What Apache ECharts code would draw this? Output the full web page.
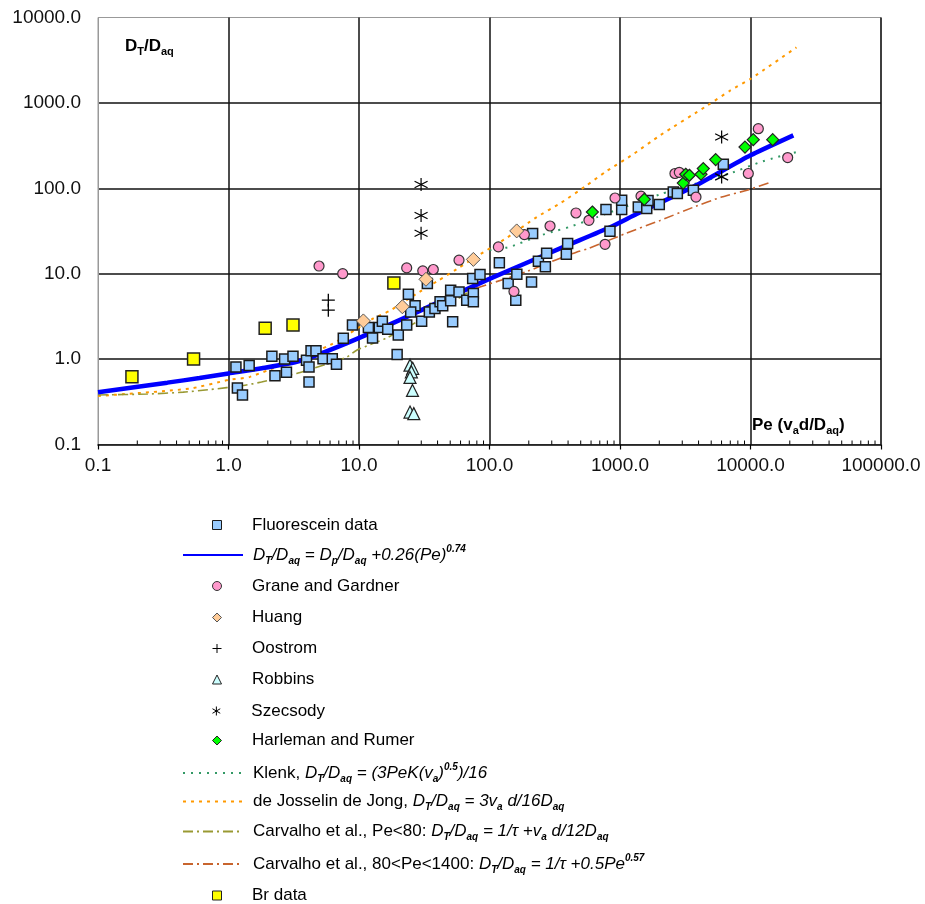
<!DOCTYPE html>
<html>
<head>
<meta charset="utf-8">
<script src="https://cdn.jsdelivr.net/npm/echarts@6/dist/echarts.min.js"></script>
<style>
html,body{margin:0;padding:0;background:#fff;}
#c{width:925px;height:904px;}
</style>
</head>
<body>
<div id="c"></div>
<script>
// ---------------- DATA ----------------
const xTickLabels = ['0.1','1.0','10.0','100.0','1000.0','10000.0','100000.0'];
const yTickLabels = ['0.1','1.0','10.0','100.0','1000.0','10000.0'];

const fluorPe = [1.14,1.44,1.17,1.28,2.15,2.69,3.12,2.27,2.78,3.96,4.29,4.68,4.14,4.14,5.30,6.24,6.72,7.58,8.91,11.8,12.7,14.3,15.1,16.6,20.0,19.6,23.2,23.9,26.9,24.9,30.2,34.6,33.4,38.2,41.8,43.8,50.4,50.4,52.2,58.4,66.9,75.2,75.2,74.3,84.6,119,139,159,162,210,214,237,274,268,397,388,781,838,1030,1030,1381,1603,1640,2000,2560,2750,3650,6190];
const fluorDT = [0.81,0.84,0.46,0.38,1.08,1.0,1.08,0.64,0.70,0.97,1.25,1.25,0.81,0.54,1.01,1.01,0.87,1.76,2.50,2.35,1.77,2.35,2.78,2.23,1.91,1.13,2.50,5.75,4.2,3.57,2.78,3.57,7.68,3.92,4.68,4.2,6.41,4.81,2.73,6.12,4.9,5.87,4.68,8.79,9.79,13.4,7.68,4.9,9.87,8.02,29.5,14.0,17.4,12.1,22.5,16.9,56.3,31.4,56.3,72.4,60.4,57.9,72,64.5,90.5,86.7,94.8,191];

const fitPe = [0.1,0.34,0.6,1.0,1.8,3.5,8,23,95,370,840,1340,3650,10000,21300];
const fitDT = [0.41,0.53,0.60,0.68,0.78,0.95,1.53,3.1,8.4,20.6,35,50,104,243,417];

const granePe = [4.94,7.5,23.2,30.8,37.1,58.4,117,154,185,291,460,578,768,916,1449,2637,2846,3822,9620,11480,19270];
const graneDT = [12.3,10.0,11.7,10.8,11.2,14.4,20.6,6.2,28.7,36.2,51.4,42.2,22.1,77,81,149,154,79,149,499,229];

const huangPe = [10.8,21.5,32.6,75.2,161.6];
const huangDT = [2.8,4.1,8.6,14.7,31.7];

const oostromPe = [5.82,5.82];
const oostromDT = [4.9,3.74];

const robbinsPe = [24.6,25.8,25.2,24.6,25.7,24.6,26.3];
const robbinsDT = [0.85,0.78,0.71,0.61,0.43,0.24,0.23];

const szecsodyPe = [29.9,29.9,29.9,6010,6010];
const szecsodyDT = [111,48,29.8,398,136];

const harlemanPe = [614,1535,3055,3187,3400,4177,4348,5410,9075,10500,14800];
const harlemanDT = [52.8,74.3,115,146,142,146,170,217,304,371,371];

const klenkPe = [100,143,236,328,404,667,2030,7000,11600,16000,22500];
const klenkDT = [18.8,20.6,27.5,32,35,46,85,150,200,232,265];

const josPe = [0.1,0.5,1,1.46,6,12.9,17,29,41,56,85,135,230,350,540,790,1260,2030,4680,7020,10000,22500];
const josDT = [0.37,0.45,0.57,0.62,1.46,3.0,3.64,6.1,8.4,11.3,16.9,26.2,46,67,105,159,250,417,935,1400,1910,4470];

const carv1Pe = [0.1,0.24,0.45,0.72,1.3,1.79,3.33,4.47,8.0,9.6,12.9,16.3,30,50,80];
const carv1DT = [0.38,0.39,0.41,0.44,0.49,0.54,0.68,0.78,1.05,1.27,1.53,1.77,2.9,4.5,7.0];

const carv2Pe = [80,190,318,468,560,1100,2030,3650,6000,9400,13800];
const carv2DT = [6.8,10.5,14.4,18,19.5,29.5,42,60,79,95,116];

const brPe = [0.182,0.54,1.91,3.12,18.5];
const brDT = [0.62,1.0,2.29,2.5,7.8];

// minor tick values on the Pe axis (2..9 within each decade)
const decades = [0.1,1,10,100,1000,10000];
const minorTicks = [];
decades.forEach(d => { for (let m = 2; m <= 9; m++) minorTicks.push(+(d*m).toPrecision(3)); });

// ---------------- helpers ----------------
const zip = (xs, ys) => xs.map((x, i) => [x, ys[i]]);
const FONT = '"Liberation Sans", Arial, sans-serif';

const ICON = {
  square: 'path://M0,0L10,0L10,10L0,10Z',
  diamond: 'path://M5,0L10,5L5,10L0,5Z',
  triangle: 'path://M5,0L10,10L0,10Z',
  plus: 'path://M5,0L5,10M0,5L10,5',
  star: 'path://M5,0L5,10M0.7,2.5L9.3,7.5M0.7,7.5L9.3,2.5'
};

const rich = {
  n: {fontSize:17, fontFamily:FONT, color:'#000', lineHeight:22},
  i: {fontSize:17, fontStyle:'italic', fontFamily:FONT, color:'#000', lineHeight:22},
  sb: {fontSize:10, fontStyle:'italic', fontWeight:'bold', fontFamily:FONT, color:'#000', lineHeight:11, verticalAlign:'bottom'},
  sp: {fontSize:10, fontStyle:'italic', fontWeight:'bold', fontFamily:FONT, color:'#000', lineHeight:11, verticalAlign:'top'}
};

const DT = '{i|D}{sb|T}{i|/D}{sb|aq}';
const legendLabels = {
  'Fluorescein data': '{n|Fluorescein data}',
  'fit': DT + '{i| = D}{sb|p}{i|/D}{sb|aq}{i| +0.26(Pe)}{sp|0.74}',
  'Grane and Gardner': '{n|Grane and Gardner}',
  'Huang': '{n|Huang}',
  'Oostrom': '{n|Oostrom}',
  'Robbins': '{n|Robbins}',
  'Szecsody': '{n|Szecsody}',
  'Harleman and Rumer': '{n|Harleman and Rumer}',
  'Klenk': '{n|Klenk, }' + DT + '{i| = (3PeK(v}{sb|a}{i|)}{sp|0.5}{i|)/16}',
  'Josselin': '{n|de Josselin de Jong, }' + DT + '{i| = 3v}{sb|a}{i| d/16D}{sb|aq}',
  'Carvalho1': '{n|Carvalho et al., Pe<80: }' + DT + '{i| = 1/τ +v}{sb|a}{i| d/12D}{sb|aq}',
  'Carvalho2': '{n|Carvalho et al., 80<Pe<1400: }' + DT + '{i| = 1/τ +0.5Pe}{sp|0.57}',
  'Br data': '{n|Br data}'
};

const legendRows = [
  ['Fluorescein data', ICON.square, 527.5],
  ['fit', null, 555],
  ['Grane and Gardner', 'circle', 588.5],
  ['Huang', ICON.diamond, 620],
  ['Oostrom', ICON.plus, 651],
  ['Robbins', ICON.triangle, 682],
  ['Szecsody', ICON.star, 713.5],
  ['Harleman and Rumer', ICON.diamond, 743],
  ['Klenk', null, 773],
  ['Josselin', null, 804],
  ['Carvalho1', null, 834],
  ['Carvalho2', null, 864],
  ['Br data', ICON.square, 898]
];

function lineSeries(name, xs, ys, color, width, type) {
  return {
    name, type:'line', data: zip(xs, ys), symbol:'none', showSymbol:false,
    smooth:0.2, z:2, silent:true,
    itemStyle:{color:'rgba(0,0,0,0)', borderColor:'rgba(0,0,0,0)', borderWidth:0},
    lineStyle:{color, width, type}
  };
}
function scatterSeries(name, xs, ys, symbol, size, color, border, bw) {
  return {
    name, type:'scatter', data: zip(xs, ys), symbol, symbolSize:size, z:3, silent:true,
    itemStyle:{color, borderColor:border, borderWidth:bw, opacity:1}
  };
}

const chart = echarts.init(document.getElementById('c'), null, {renderer:'canvas'});

const option = {
  animation:false,
  backgroundColor:'#fff',
  grid:{left:98, top:17.5, right:44, bottom:459.5, show:true, borderColor:'#999', borderWidth:1, backgroundColor:'transparent'},
  xAxis:{
    type:'log', logBase:10, min:0.1, max:100000, splitNumber:6,
    axisLine:{show:true, lineStyle:{color:'#000', width:1.5}},
    axisTick:{show:true, length:5, inside:false, lineStyle:{color:'#000', width:1.2}},
    axisLabel:{
      margin:12, fontSize:19, fontFamily:FONT, color:'#111',
      showMinLabel:true, showMaxLabel:true,
      formatter: v => xTickLabels[Math.round(Math.log10(v)) + 1]
    },
    splitLine:{show:true, showMinLine:false, lineStyle:{color:'#111', width:1.5}}
  },
  yAxis:{
    type:'log', logBase:10, min:0.1, max:10000, splitNumber:5,
    axisLine:{show:true, lineStyle:{color:'#999', width:1}},
    axisTick:{show:false},
    axisLabel:{
      margin:17, fontSize:19, fontFamily:FONT, color:'#111',
      showMinLabel:true, showMaxLabel:true,
      formatter: v => yTickLabels[Math.round(Math.log10(v)) + 1]
    },
    splitLine:{show:true, showMinLine:false, showMaxLine:false, lineStyle:{color:'#111', width:1.5}}
  },
  legend: legendRows.map(([name, icon, y]) => {
    const isLine = !icon;
    const lg = {
      data:[isLine ? {name} : {name, icon}],
      left: isLine ? 182 : 212, top: y - 11,
      padding:0,
      itemWidth:60, itemHeight:9,
      selectedMode:false,
      formatter: n => legendLabels[n],
      textStyle:{fontSize:17, fontFamily:FONT, color:'#000', rich, padding: isLine ? [0,0,0,5] : 0}
    };
    if (!isLine) lg.itemStyle = {borderWidth:1};
    return lg;
  }),
  graphic:[
    {type:'text', left:125, top:38, silent:true,
     style:{text:'{b|D}{bs|T}{b|/D}{bs|aq}', rich:{
       b:{fontSize:17, fontWeight:'bold', fontFamily:FONT, color:'#000', lineHeight:22},
       bs:{fontSize:11, fontWeight:'bold', fontFamily:FONT, color:'#000', lineHeight:12, verticalAlign:'bottom'}}}},
    {type:'text', left:752, top:417, silent:true,
     style:{text:'{b|Pe (v}{bs|a}{b|d/D}{bs|aq}{b|)}', rich:{
       b:{fontSize:17, fontWeight:'bold', fontFamily:FONT, color:'#000', lineHeight:22},
       bs:{fontSize:11, fontWeight:'bold', fontFamily:FONT, color:'#000', lineHeight:12, verticalAlign:'bottom'}}}}
  ],
  series:[
    {
      name:'minor', type:'custom', coordinateSystem:'cartesian2d', silent:true, clip:false, z:5,
      data: minorTicks.map(v => [v, 0.1]),
      renderItem:(params, api) => {
        const p = api.coord([api.value(0), api.value(1)]);
        return {type:'line', shape:{x1:p[0], y1:p[1], x2:p[0], y2:p[1]-4}, style:{stroke:'#000', lineWidth:1}};
      }
    },
    lineSeries('Klenk', klenkPe, klenkDT, '#339966', 2, [2,6]),
    lineSeries('Josselin', josPe, josDT, '#FF9900', 2, [3,5]),
    lineSeries('Carvalho1', carv1Pe, carv1DT, '#999933', 1.6, [10,4,2,4]),
    lineSeries('Carvalho2', carv2Pe, carv2DT, '#C8642D', 1.6, [10,4,2,4]),
    lineSeries('fit', fitPe, fitDT, '#0000FF', 4.5, 'solid'),
    scatterSeries('Fluorescein data', fluorPe, fluorDT, 'rect', 10, '#99CCFF', '#1a1a1a', 1.5),
    scatterSeries('Grane and Gardner', granePe, graneDT, 'circle', 10, '#FF99CC', '#333', 1.2),
    scatterSeries('Huang', huangPe, huangDT, 'diamond', 14, '#FFCC99', '#555', 1),
    scatterSeries('Oostrom', oostromPe, oostromDT, ICON.plus, 13, 'rgba(0,0,0,0)', '#000', 1.3),
    scatterSeries('Robbins', robbinsPe, robbinsDT, 'triangle', 12, '#CCFFFF', '#222', 1.2),
    scatterSeries('Szecsody', szecsodyPe, szecsodyDT, ICON.star, 13, 'rgba(0,0,0,0)', '#000', 1.2),
    scatterSeries('Harleman and Rumer', harlemanPe, harlemanDT, 'diamond', 12, '#00FF00', '#222', 1.2),
    scatterSeries('Br data', brPe, brDT, 'rect', 12, '#FFFF00', '#222', 1.5)
  ]
};
chart.setOption(option);
</script>
</body>
</html>
